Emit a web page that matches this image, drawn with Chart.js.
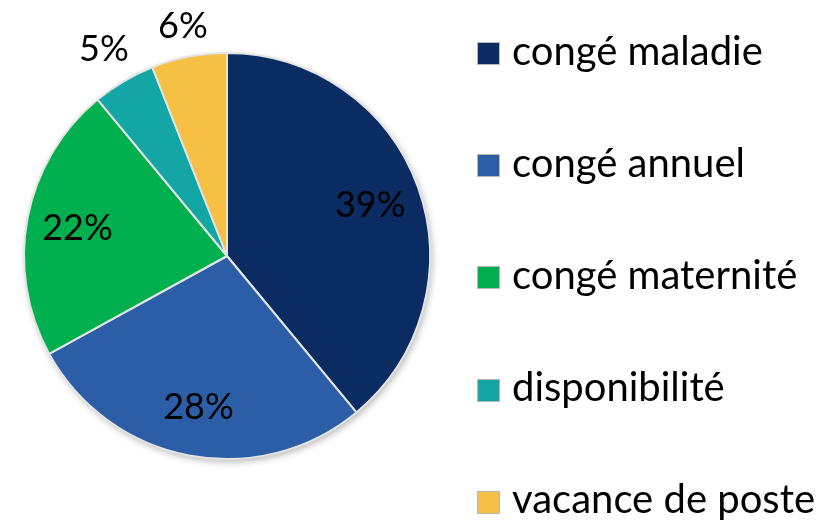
<!DOCTYPE html>
<html>
<head>
<meta charset="utf-8">
<script src="https://cdn.jsdelivr.net/npm/chart.js@4.4.1/dist/chart.umd.min.js"></script>
<style>
  html, body { margin: 0; padding: 0; background: #ffffff; }
  #wrap { position: relative; width: 830px; height: 522px; overflow: hidden; }
  #legend { position: absolute; left: 0; top: 0; width: 830px; height: 522px; pointer-events: none; }
  .box { position: absolute; left: 477px; width: 21px; height: 21px; border: 1.5px solid #b8b8b8; }
  .txt { position: absolute; left: 512px; white-space: nowrap; line-height: 40px; height: 40px;
         font-family: Lato, "Open Sans", sans-serif; font-size: 40px; color: #000; }
</style>
</head>
<body>
<div id="wrap">
  <canvas id="c" width="830" height="522"></canvas>
  <div id="legend"></div>
</div>
<script>
const categories = ["congé maladie", "congé annuel", "congé maternité", "disponibilité", "vacance de poste"];
const values = [39, 28, 22, 5, 6];
const colors = ["#0B2C62", "#2C5EA8", "#00B04F", "#13A6A4", "#F5C043"];

const pieShadow = {
  id: 'pieShadow',
  beforeDatasetsDraw(chart) {
    const arc = chart.getDatasetMeta(0).data[0];
    if (!arc) return;
    const ctx = chart.ctx;
    ctx.save();
    ctx.shadowColor = 'rgba(0,0,0,0.28)';
    ctx.shadowBlur = 7;
    ctx.shadowOffsetX = 2;
    ctx.shadowOffsetY = 3;
    ctx.fillStyle = '#ffffff';
    ctx.beginPath();
    ctx.arc(arc.x, arc.y, arc.outerRadius, 0, Math.PI * 2);
    ctx.fill();
    ctx.restore();
  }
};

const pctLabels = {
  id: 'pctLabels',
  afterDatasetsDraw(chart) {
    const ctx = chart.ctx;
    const data = chart.data.datasets[0].data;
    const total = data.reduce((a, b) => a + b, 0);
    ctx.save();
    ctx.font = '36px Lato, "Open Sans", sans-serif';
    ctx.fillStyle = '#000';
    ctx.textAlign = 'center';
    ctx.textBaseline = 'alphabetic';
    const capH = 26;
    chart.getDatasetMeta(0).data.forEach((arc, i) => {
      const pct = Math.round(data[i] / total * 100);
      const txt = pct + '%';
      const mid = (arc.startAngle + arc.endAngle) / 2;
      const c = Math.cos(mid), s = Math.sin(mid);
      let r;
      if (pct >= 10) {
        r = arc.outerRadius * 0.75;
      } else {
        const hw = ctx.measureText(txt).width / 2;
        r = arc.outerRadius + 15 + hw * Math.abs(c) + (capH / 2) * Math.abs(s);
      }
      ctx.fillText(txt, arc.x + c * r, arc.y + s * r + capH / 2);
    });
    ctx.restore();
  }
};

const htmlLegend = {
  id: 'htmlLegend',
  afterUpdate(chart) {
    const el = document.getElementById('legend');
    el.innerHTML = '';
    const items = chart.options.plugins.legend.labels.generateLabels(chart);
    items.forEach((it, i) => {
      const base = 65 + i * 112.2;
      const b = document.createElement('div');
      b.className = 'box';
      b.style.top = (base - 23) + 'px';
      b.style.background = it.fillStyle;
      const t = document.createElement('div');
      t.className = 'txt';
      t.style.top = (base - 35.5) + 'px';
      t.textContent = it.text;
      el.appendChild(b); el.appendChild(t);
    });
  }
};

new Chart(document.getElementById('c'), {
  type: 'pie',
  data: {
    labels: categories,
    datasets: [{
      data: values,
      backgroundColor: colors,
      borderColor: '#e4e4e4',
      borderWidth: 2
    }]
  },
  options: {
    responsive: false,
    animation: false,
    layout: { padding: { left: 22, top: 52, right: 398, bottom: 62 } },
    plugins: {
      legend: { display: false },
      tooltip: { enabled: false }
    }
  },
  plugins: [pieShadow, pctLabels, htmlLegend]
});
</script>
</body>
</html>
